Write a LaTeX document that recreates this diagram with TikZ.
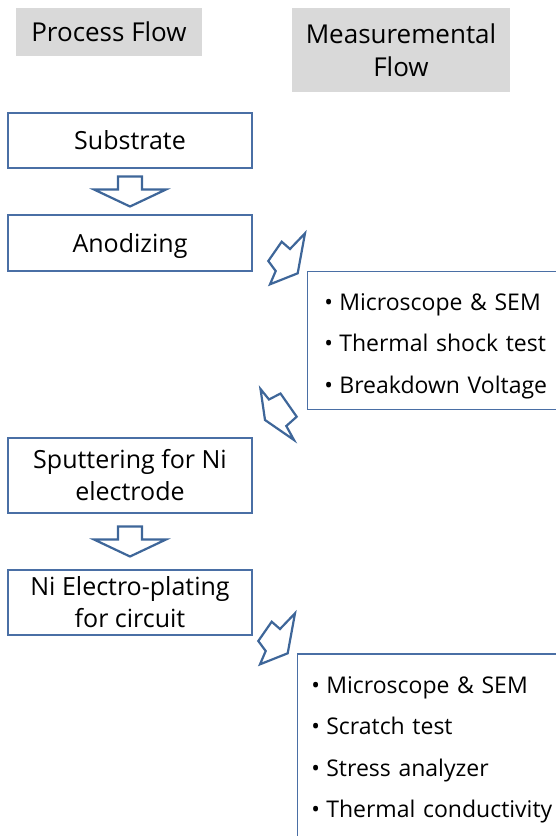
\documentclass[tikz,border=0pt]{standalone}
\usepackage{fontspec}
\setmainfont{Open Sans}
\usepackage{tikz}
\usetikzlibrary{calc}
\definecolor{boxline}{HTML}{4A6FA5}
\definecolor{arrowline}{HTML}{3E6699}
\definecolor{titlebg}{HTML}{D9D9D9}
\newcommand{\meas}[1]{\makebox[15pt][l]{\textbullet}#1}
% hollow block arrow half way between two boxes
\newcommand{\downflow}[2]{%
  \draw[blockarrow, shift={($(#1.south)!0.5!(#2.north)$)}]
    (-12,-15) -- (12,-15) -- (12,-2) -- (36,-2) -- (0,15) -- (-36,-2)
    -- (-12,-2) -- cycle;}

\begin{document}
\begin{tikzpicture}[
    x=1pt, y=-1pt,
    titlebox/.style={fill=titlebg, align=center, inner sep=0pt,
                     font=\fontsize{26}{33}\selectfont},
    procbox/.style={rectangle, draw=boxline, fill=white, line width=1.3pt,
                    minimum width=244pt, align=center, inner sep=0pt,
                    font=\fontsize{25}{32}\selectfont},
    oneline/.style={text height=18pt, text depth=0pt},
    measbox/.style={rectangle, draw=boxline, fill=white, line width=1.3pt,
                    align=left, inner ysep=0pt, anchor=north west,
                    font=\fontsize{23}{41.5}\selectfont},
    blockarrow/.style={draw=arrowline, fill=white, line width=2.2pt,
                       line join=miter}
]
\useasboundingbox (0,0) rectangle (556,836);

\node[titlebox, minimum width=186pt, minimum height=48pt] (ptitle)
     at (109,32) {Process Flow};
\node[titlebox, minimum width=218pt, minimum height=84pt] (mtitle)
     at (401,50) {Measuremental\\Flow};

\node[procbox, oneline, minimum height=55pt] (sub)  at (130,140.5) {Substrate};
\node[procbox, oneline, minimum height=56pt] (anod) at (130,243) {Anodizing};
\node[procbox, minimum height=75pt] (sput) at (130,475.5)
     {Sputtering for Ni\\electrode};
\node[procbox, minimum height=65pt] (plat) at (130,602.5)
     {Ni Electro-plating\\for circuit};

\node[measbox, minimum height=138pt, text width=250pt, inner xsep=17pt]
     (meas1) at (306.7,271)
     {\rule{0pt}{28pt}\meas{Microscope \& SEM}\\\meas{Thermal shock test}\\
      \meas{Breakdown Voltage}};
\node[measbox, minimum height=192pt, text width=260pt, inner xsep=14pt]
     (meas2) at (296.7,653.3)
     {\meas{Microscope \& SEM}\\\meas{Scratch test}\\
      \meas{Stress analyzer}\\\meas{Thermal conductivity}};

\downflow{sub}{anod}
\downflow{sput}{plat}

\draw[blockarrow] (305,233.3) -- (297.7,273.3) -- (270,284.3) -- (275.7,271)
     -- (268.3,261) -- (281.7,241.7) -- (290,249) -- cycle;
\draw[blockarrow] (260.5,389) -- (269,399.5) -- (280.5,393.5) -- (296.7,416.7)
     -- (286.3,426) -- (294,440) -- (265,420) -- cycle;
\draw[blockarrow] (295,613.3) -- (287.7,653.3) -- (260,664.3) -- (265.7,651)
     -- (258.3,641) -- (271.7,621.7) -- (280,629) -- cycle;

\end{tikzpicture}
\end{document}
